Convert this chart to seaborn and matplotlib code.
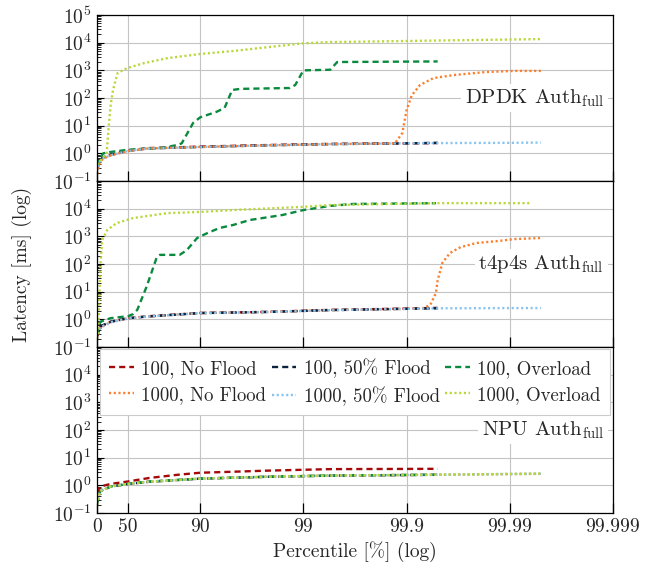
import numpy as np
import matplotlib
matplotlib.use("Agg")
import matplotlib.pyplot as plt
import matplotlib.transforms as mtransforms
import seaborn as sns

# ==============================================================================
# DATA (percentile [%] -> latency [ms])
# ==============================================================================
X_TICKS = [0, 50, 90, 99, 99.9, 99.99, 99.999]
X_TICK_LABELS = ["0", "50", "90", "99", "99.9", "99.99", "99.999"]
PANEL_NAMES = ["DPDK", "t4p4s", "NPU"]

# --- DPDK ---
DPDK_PCT_100 = [0, 6.7, 13, 26, 50, 68, 90, 97.8, 99.45, 99.9, 99.95]
DPDK_100_NOFLOOD = [0.25, 0.55, 0.7, 0.87, 1.25, 1.55, 1.75, 2.0, 2.2, 2.3, 2.35]
DPDK_100_FLOOD50 = [0.27, 0.58, 0.72, 0.9, 1.25, 1.5, 1.7, 1.95, 2.15, 2.3, 2.4]
DPDK_PCT_1000 = [0, 6.7, 13, 26, 50, 68, 90, 97.8, 99.45, 99.9, 99.95, 99.99, 99.995]
DPDK_1000_FLOOD50 = [0.22, 0.52, 0.66, 0.85, 1.22, 1.5, 1.7, 1.95, 2.15, 2.3, 2.35, 2.4, 2.45]
DPDK_PCT_1000_NOFLOOD = [0, 6.7, 13, 26, 50, 68, 90, 97.8, 99.45, 99.87, 99.89, 99.9,
                         99.911, 99.926, 99.945, 99.965, 99.983, 99.991, 99.995]
DPDK_1000_NOFLOOD = [0.18, 0.5, 0.64, 0.84, 1.2, 1.5, 1.7, 1.95, 2.15, 2.3, 5.4, 37,
                     126, 295, 525, 676, 870, 955, 955]
DPDK_PCT_100_OVERLOAD = [0, 6.7, 13, 26, 50, 77, 83.4, 84.9, 88.3, 90, 93.1, 94.2, 95.1,
                         95.9, 98.65, 98.8, 99, 99.45, 99.53, 99.95]
DPDK_100_OVERLOAD = [0.35, 0.7, 1.0, 1.12, 1.35, 1.6, 2.0, 2.3, 12.6, 20, 32, 44, 195,
                     214, 230, 295, 1000, 1050, 2000, 2100]
DPDK_PCT_1000_OVERLOAD = [0, 12.5, 19.4, 23.4, 26.5, 30, 36.9, 48.7, 64.5, 79.1, 90, 95.2,
                          97.8, 99, 99.45, 99.926, 99.995]
DPDK_1000_OVERLOAD = [0.4, 0.7, 1.0, 12, 60, 195, 800, 1200, 1800, 2750, 3900, 5000,
                      6900, 9500, 10500, 11700, 13500]

# --- t4p4s ---
T4_PCT_100 = [0, 6.7, 26, 50, 69, 90, 97.8, 99.45, 99.9, 99.95]
T4_100_NOFLOOD = [0.23, 0.54, 0.81, 1.1, 1.3, 1.7, 1.86, 2.2, 2.45, 2.6]
T4_100_FLOOD50 = [0.25, 0.55, 0.82, 1.1, 1.28, 1.68, 1.85, 2.15, 2.4, 2.5]
T4_PCT_1000 = [0, 6.7, 26, 50, 69, 90, 97.8, 99.45, 99.9, 99.95, 99.99, 99.995]
T4_1000_FLOOD50 = [0.2, 0.5, 0.78, 1.08, 1.28, 1.68, 1.85, 2.15, 2.4, 2.5, 2.55, 2.55]
T4_PCT_1000_NOFLOOD = [0, 6.7, 26, 50, 69, 90, 97.8, 99.45, 99.9, 99.93, 99.941, 99.948,
                       99.95, 99.955, 99.962, 99.970, 99.979, 99.987, 99.991, 99.995]
T4_1000_NOFLOOD = [0.2, 0.5, 0.78, 1.08, 1.28, 1.68, 1.85, 2.15, 2.4, 2.5, 3.3, 8.9,
                   26, 110, 250, 407, 575, 676, 795, 870]
T4_PCT_100_OVERLOAD = [0, 6.7, 26, 50, 55.3, 59.3, 66.9, 73.7, 75.5, 84.2, 86.5, 89.3,
                       91.5, 93.5, 95.2, 96.7, 98.4, 99, 99.45, 99.67, 99.948]
T4_100_OVERLOAD = [0.3, 0.81, 1.1, 1.3, 1.55, 2.2, 15, 178, 214, 214, 316, 870,
                   1320, 2000, 2570, 3900, 5900, 8900, 12600, 14800, 15800]
T4_PCT_1000_OVERLOAD = [0, 2.3, 4.5, 6.7, 10.9, 20.6, 35.4, 55.3, 79.1, 90, 95.2, 98.93,
                        99.45, 99.949, 99.9937]
T4_1000_OVERLOAD = [0.2, 0.3, 2.2, 60, 740, 1700, 3000, 4570, 6900, 7600, 8900, 11500,
                    13500, 15800, 15800]

# --- NPU ---
NPU_PCT_100_NOFLOOD = [0, 6.7, 26, 50, 69, 83.4, 90, 95.2, 97.8, 99.45, 99.95]
NPU_100_NOFLOOD = [0.55, 0.9, 1.12, 1.38, 1.85, 2.4, 2.85, 3.1, 3.4, 3.85, 3.95]
NPU_PCT_100 = [0, 3, 6.7, 26, 50, 69, 90, 97.8, 99.45, 99.95]
NPU_100_FLOOD50 = [0.2, 0.35, 0.6, 0.9, 1.12, 1.35, 1.74, 2.04, 2.24, 2.4]
NPU_100_OVERLOAD = [0.22, 0.36, 0.62, 0.9, 1.13, 1.36, 1.75, 2.05, 2.25, 2.42]
NPU_PCT_1000 = [0, 3, 6.7, 26, 50, 69, 90, 97.8, 99.45, 99.95, 99.99, 99.995]
NPU_1000_NOFLOOD = [0.2, 0.34, 0.6, 0.9, 1.12, 1.35, 1.74, 2.04, 2.24, 2.4, 2.55, 2.6]
NPU_1000_FLOOD50 = [0.21, 0.35, 0.6, 0.9, 1.12, 1.35, 1.74, 2.04, 2.24, 2.42, 2.57, 2.62]
NPU_1000_OVERLOAD = [0.2, 0.35, 0.61, 0.91, 1.13, 1.36, 1.75, 2.05, 2.26, 2.43, 2.58, 2.65]

# ==============================================================================
# STYLE
# ==============================================================================
DASHED = (0, (2.6, 1.7))
DOTTED = (0, (0.9, 1.1))
SERIES = [
    ("100, No Flood", "#a50a0a", DASHED),
    ("100, 50% Flood", "#0c2340", DASHED),
    ("100, Overload", "#0a8a3e", DASHED),
    ("1000, No Flood", "#fb7f2c", DOTTED),
    ("1000, 50% Flood", "#87c4ef", DOTTED),
    ("1000, Overload", "#b8d83a", DOTTED),
]

PANELS = [
    [(DPDK_PCT_100, DPDK_100_NOFLOOD), (DPDK_PCT_100, DPDK_100_FLOOD50),
     (DPDK_PCT_100_OVERLOAD, DPDK_100_OVERLOAD), (DPDK_PCT_1000_NOFLOOD, DPDK_1000_NOFLOOD),
     (DPDK_PCT_1000, DPDK_1000_FLOOD50), (DPDK_PCT_1000_OVERLOAD, DPDK_1000_OVERLOAD)],
    [(T4_PCT_100, T4_100_NOFLOOD), (T4_PCT_100, T4_100_FLOOD50),
     (T4_PCT_100_OVERLOAD, T4_100_OVERLOAD), (T4_PCT_1000_NOFLOOD, T4_1000_NOFLOOD),
     (T4_PCT_1000, T4_1000_FLOOD50), (T4_PCT_1000_OVERLOAD, T4_1000_OVERLOAD)],
    [(NPU_PCT_100_NOFLOOD, NPU_100_NOFLOOD), (NPU_PCT_100, NPU_100_FLOOD50),
     (NPU_PCT_100, NPU_100_OVERLOAD), (NPU_PCT_1000, NPU_1000_NOFLOOD),
     (NPU_PCT_1000, NPU_1000_FLOOD50), (NPU_PCT_1000, NPU_1000_OVERLOAD)],
]


def pct_fwd(p):
    p = np.clip(np.asarray(p, dtype=float), 0, 99.99999)
    return -np.log10(1 - p / 100.0)


def pct_inv(t):
    return 100.0 * (1 - 10.0 ** (-np.asarray(t, dtype=float)))


sns.set_theme(style="whitegrid")
plt.rcParams.update({
    "font.family": "serif",
    "font.serif": ["cmr10", "DejaVu Serif"],
    "mathtext.fontset": "cm",
    "axes.formatter.use_mathtext": True,
    "axes.unicode_minus": False,
    "axes.edgecolor": "black",
    "axes.linewidth": 0.9,
    "grid.color": "#c4c4c4",
    "grid.linewidth": 0.8,
})

fig, axes = plt.subplots(3, 1, sharex=True, figsize=(6.54, 5.71), dpi=100)
fig.subplots_adjust(left=0.1483, right=0.9373, top=0.9737, bottom=0.1016, hspace=0)

for i, ax in enumerate(axes):
    for (label, color, ls), (px, py) in zip(SERIES, PANELS[i]):
        sns.lineplot(x=px, y=py, ax=ax, color=color, linestyle=ls, linewidth=1.7,
                     label=label, legend=False)
    ax.set_yscale("log")
    ax.set_xscale("function", functions=(pct_fwd, pct_inv))
    ax.set_ylim(1e-1, 1e5)
    ax.set_xlim(0, 99.999)
    ax.set_xticks(X_TICKS)
    ax.set_xticklabels(X_TICK_LABELS)
    if i == 0:
        ax.set_yticks([1e-1, 1e0, 1e1, 1e2, 1e3, 1e4, 1e5])
    else:
        ax.set_yticks([1e-1, 1e0, 1e1, 1e2, 1e3, 1e4])
    ax.yaxis.set_minor_locator(matplotlib.ticker.LogLocator(base=10, subs=np.arange(2, 10), numticks=20))
    ax.yaxis.set_minor_formatter(matplotlib.ticker.NullFormatter())
    ax.grid(True, which="major")
    ax.grid(False, which="minor")
    ax.tick_params(axis="both", which="both", direction="in", color="black",
                   labelsize=14, pad=4)
    ax.tick_params(axis="y", which="major", length=5, width=0.8, left=True, right=False)
    ax.tick_params(axis="y", which="minor", length=3, width=0.6, left=True, right=False)
    ax.tick_params(axis="x", which="major", length=7, width=0.9, bottom=True, top=False)
    ax.tick_params(axis="x", which="minor", bottom=False, top=False)
    ax.set_xlabel("")
    ax.set_ylabel("")
    for sp in ax.spines.values():
        sp.set_color("black")
        sp.set_linewidth(0.9)
        sp.set_zorder(5)

    trans = mtransforms.blended_transform_factory(ax.transAxes, ax.transData)
    ax.text(0.983, 100, PANEL_NAMES[i] + r" Auth$_{\mathrm{full}}$", transform=trans,
            ha="right", va="center", fontsize=15, zorder=4,
            bbox=dict(facecolor="white", edgecolor="none", pad=2.5))

# legend in bottom panel, 2 rows x 3 columns
handles, labels = axes[2].get_legend_handles_labels()
order = [0, 3, 1, 4, 2, 5]
leg = axes[2].legend([handles[k] for k in order], [labels[k] for k in order],
                     ncol=3, loc="upper left", bbox_to_anchor=(0.006, 0.99, 0.988, 0.0),
                     mode="expand", fontsize=13.5, frameon=True, fancybox=False,
                     handlelength=1.3, handletextpad=0.4, columnspacing=0.3,
                     borderpad=0.5, labelspacing=0.45, borderaxespad=0.0)
leg.get_frame().set_edgecolor("#cccccc")
leg.get_frame().set_linewidth(0.8)
leg.get_frame().set_facecolor("white")
leg.get_frame().set_alpha(1.0)
leg.set_zorder(6)

fig.text(22 / 654, 1 - 264 / 571, "Latency [ms] (log)", rotation=90,
         ha="center", va="center", fontsize=14)
fig.text(355 / 654, 1 - 552 / 571, "Percentile [%] (log)",
         ha="center", va="center", fontsize=14)

fig.savefig("out.png", dpi=100)
